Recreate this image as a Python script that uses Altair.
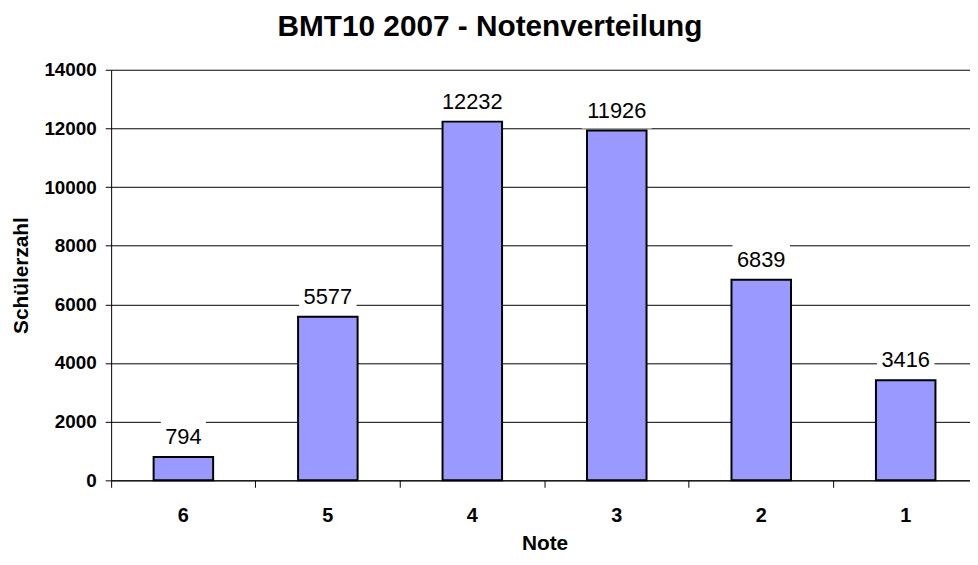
import altair as alt
import pandas as pd

notes = ["6", "5", "4", "3", "2", "1"]
counts = [794, 5577, 12232, 11926, 6839, 3416]
y_ticks = [0, 2000, 4000, 6000, 8000, 10000, 12000, 14000]

df = pd.DataFrame({"Note": notes, "Anzahl": counts})

FONT = "Liberation Sans"
W, H = 866, 414
PX = H / 14000.0  # pixels per unit
P_IN = 0.588

x_enc = alt.X(
    "Note:N",
    sort=notes,
    scale=alt.Scale(range=[0, 874], paddingInner=P_IN, paddingOuter=P_IN / 2),
    axis=alt.Axis(
        title="Note",
        bandPosition=-P_IN / (2 * (1 - P_IN)),
        labelAngle=0,
        labelFont=FONT,
        labelFontSize=20,
        labelFontWeight="bold",
        labelColor="black",
        labelBaseline="alphabetic",
        labelPadding=34,
        tickSize=7,
        tickColor="black",
        domainColor="black",
        grid=False,
        titleFont=FONT,
        titleFontSize=21,
        titleFontWeight="bold",
        titleColor="black",
        titleBaseline="alphabetic",
        titleY=70,
    ),
)

y_axis = alt.Axis(
    values=y_ticks,
    format="d",
    title="Schülerzahl",
    labelFont=FONT,
    labelFontSize=19,
    labelFontWeight="bold",
    labelColor="black",
    labelPadding=9,
    tickSize=6,
    tickColor="black",
    domainColor="black",
    gridColor="black",
    gridWidth=1,
    titleFont=FONT,
    titleFontSize=21,
    titleFontWeight="bold",
    titleColor="black",
    titleAngle=270,
    titleBaseline="alphabetic",
    titleAlign="center",
    titleX=-84,
    titleY=207,
)
y_scale = alt.Scale(domain=[0, 14000], nice=False)

bars = alt.Chart(df).mark_bar(
    fill="#9999FF", stroke="black", strokeWidth=2
).encode(x=x_enc, y=alt.Y("Anzahl:Q", scale=y_scale, axis=y_axis))

boxes = alt.Chart(df).transform_calculate(
    box_lo=f"datum.Anzahl + {2 / PX}",
    box_hi=f"datum.Anzahl + {38 / PX}",
    box_w="length(toString(datum.Anzahl)) * 12.5 + 8",
).mark_bar(fill="white", stroke=None).encode(
    x=x_enc,
    y=alt.Y("box_lo:Q", scale=y_scale, axis=y_axis),
    y2="box_hi:Q",
    size=alt.Size("box_w:Q", scale=None),
)

labels = alt.Chart(df).mark_text(
    dy=-13, baseline="alphabetic", font=FONT, fontSize=22, color="black"
).encode(
    x=x_enc,
    y=alt.Y("Anzahl:Q", scale=y_scale, axis=y_axis),
    text=alt.Text("Anzahl:Q", format="d"),
)

chart = alt.layer(bars, boxes, labels).properties(
    width=W,
    height=H,
    autosize=alt.AutoSizeParams(type="none"),
    padding={"left": 104, "top": 60, "right": 0, "bottom": 75},
    background="white",
    title=alt.Title(
        "BMT10 2007 - Notenverteilung",
        font=FONT,
        fontSize=30,
        fontWeight="bold",
        color="black",
        anchor="middle",
        frame="group",
        dx=-51,
        offset=19,
    ),
).configure_view(stroke=None)

chart.save("out.html", embed_options={"renderer": "svg", "actions": False})
